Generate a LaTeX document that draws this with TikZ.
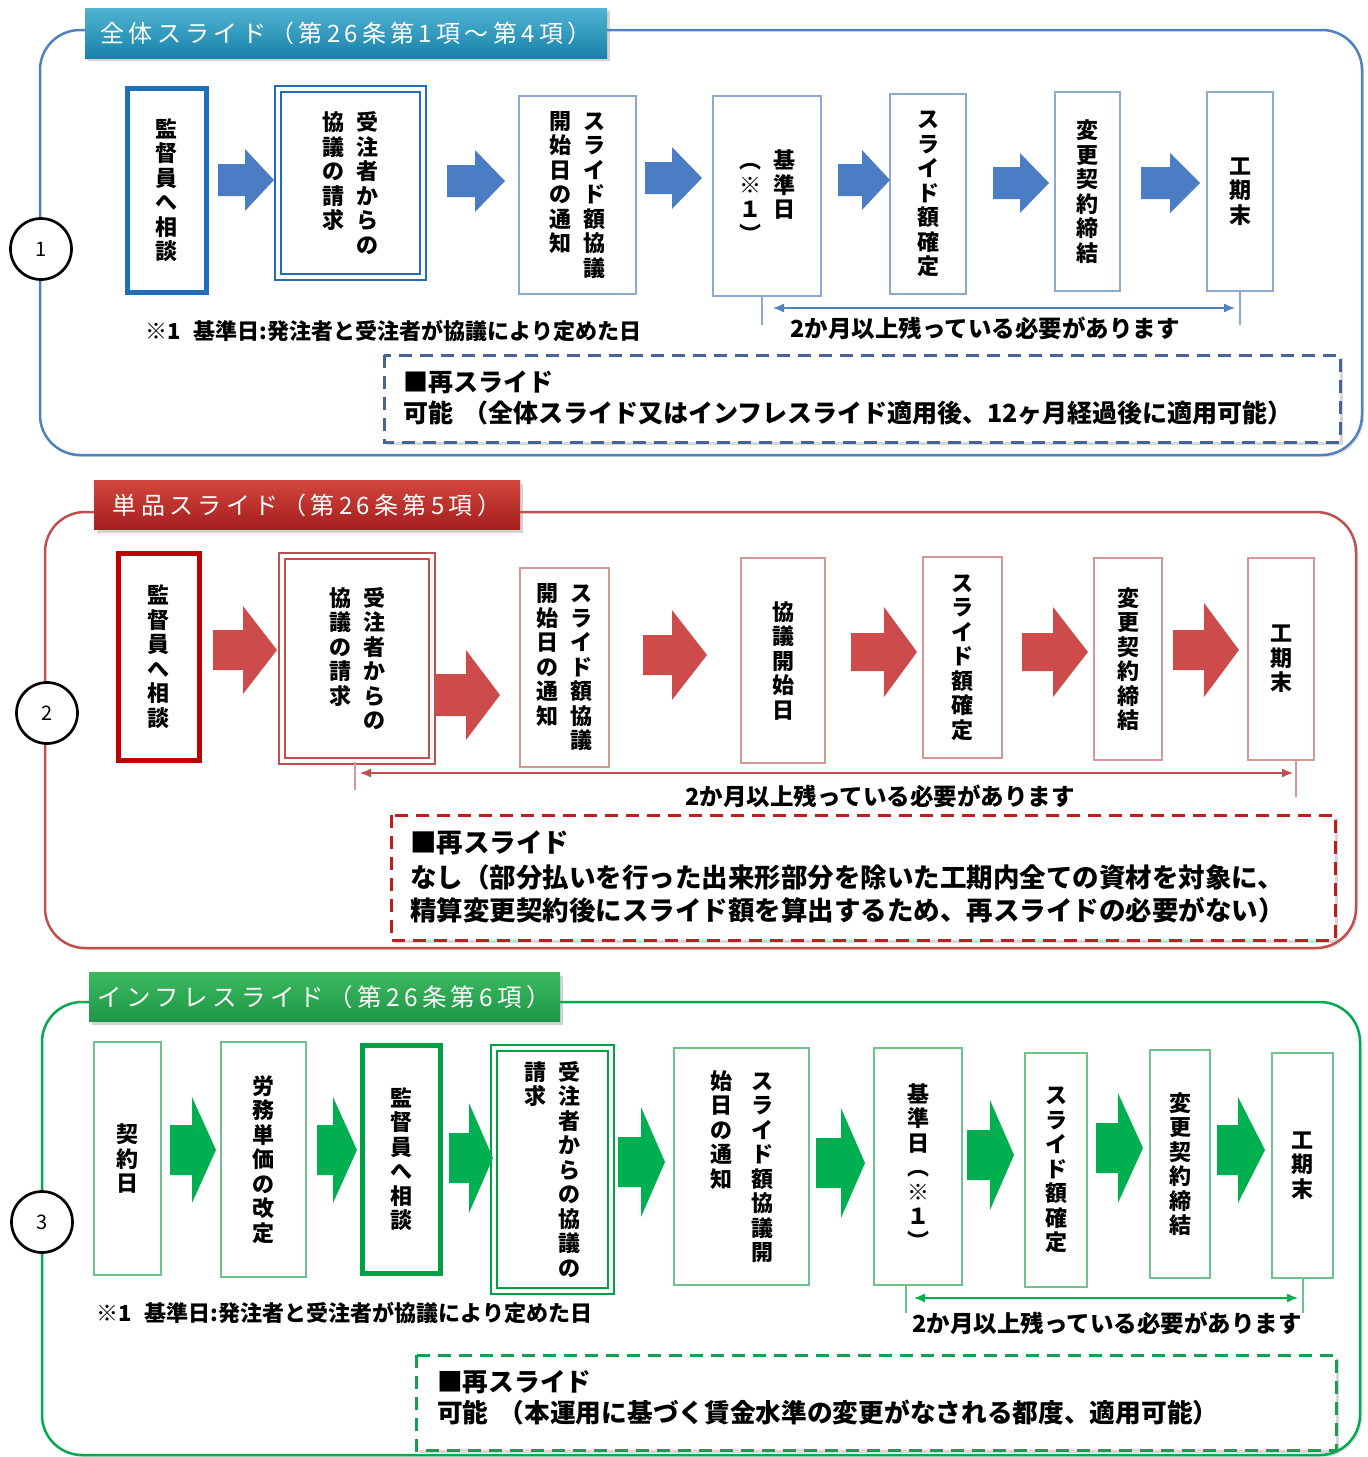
\documentclass[tikz,border=0pt]{standalone}
\usepackage{fontspec}
\setmainfont{Noto Sans CJK JP}
\newfontfamily\ttlfont{Noto Sans CJK JP}[LetterSpace=18]
\usetikzlibrary{arrows.meta,shadows}

\makeatletter
\newlength\vpitch \setlength\vpitch{24.5pt}
\newlength\vcharw \setlength\vcharw{24pt}
\newcommand\vcol[1]{\vtop{\baselineskip=\vpitch\lineskip=0pt\lineskiplimit=-100pt\@tfor\vc@c:=#1\do{\hbox to\vcharw{\hss\vc@c\hss}}}}
\makeatother
\newcommand\twocol[3][10pt]{\vcol{#2}\hspace{#1}\vcol{#3}}

% box: style, name, x0, y0, x1, y1, content
\newcommand\bx[7]{\node[#1, minimum width={(#5-#3)*1pt}, minimum height={(#6-#4)*1pt}] (#2) at ({(#3+#5)/2},{(#4+#6)/2}) {#7};}
% block arrow: x0, xb, x1, cy, shaft half, head half, colour
\newcommand\barrow[7]{\fill[#7] (#1,#4-#5) -- (#2,#4-#5) -- (#2,#4-#6) -- (#3,#4) -- (#2,#4+#6) -- (#2,#4+#5) -- (#1,#4+#5) -- cycle;}

\definecolor{bl}{RGB}{79,129,189}
\definecolor{blA}{RGB}{74,125,195}
\definecolor{blT}{RGB}{30,110,185}
\definecolor{blL}{RGB}{140,170,205}
\definecolor{blD}{RGB}{70,100,150}
\definecolor{blBt}{RGB}{80,180,210}
\definecolor{blBb}{RGB}{25,130,170}
\definecolor{rd}{RGB}{192,80,77}
\definecolor{rdA}{RGB}{205,75,75}
\definecolor{rdT}{RGB}{192,0,0}
\definecolor{rdL}{RGB}{215,150,150}
\definecolor{rdD}{RGB}{192,30,30}
\definecolor{rdBt}{RGB}{210,70,60}
\definecolor{rdBb}{RGB}{165,30,30}
\definecolor{gr}{RGB}{0,170,80}
\definecolor{grA}{RGB}{0,176,80}
\definecolor{grT}{RGB}{0,160,70}
\definecolor{grL}{RGB}{110,195,140}
\definecolor{grD}{RGB}{20,160,80}
\definecolor{grBt}{RGB}{60,185,95}
\definecolor{grBb}{RGB}{30,150,70}

\begin{document}
\begin{tikzpicture}[x=1pt,y=-1pt,
  panel/.style={draw=#1, line width=2.5pt, rounded corners=40pt, fill=white,
    drop shadow={shadow xshift=2pt, shadow yshift=-2pt, opacity=0.25}},
  banner/.style={inner sep=0pt, text=white,
    drop shadow={shadow xshift=3pt, shadow yshift=-3pt, opacity=0.35}},
  vbox/.style={draw=#1, line width=1.4pt, fill=white, inner sep=0pt,
    font=\bfseries\fontsize{22}{24}\selectfont},
  thickbox/.style={draw=#1, line width=5pt, fill=white, inner sep=0pt,
    font=\bfseries\fontsize{22}{24}\selectfont},
  dblbox/.style={draw=#1, line width=2.4pt, double=white, double distance=4pt, fill=white, inner sep=0pt,
    font=\bfseries\fontsize{22}{24}\selectfont},
  num/.style={circle, draw=black, line width=2.7pt, fill=white, minimum size=61pt, inner sep=0pt,
    font=\fontsize{20}{22}\selectfont},
  note/.style={anchor=west, inner sep=0pt, font=\bfseries\fontsize{22}{24}\selectfont},
  dimlbl/.style={inner sep=0pt, font=\bfseries\fontsize{23.5}{25}\selectfont},
  dimline/.style={draw=#1, line width=1.3pt},
  dimarrow/.style={draw=#1, line width=1.3pt, {Latex[length=11pt,width=9pt]}-{Latex[length=11pt,width=9pt]}},
  dashbox/.style={draw=#1, line width=3pt, dash pattern=on 13pt off 8pt, fill=white,
    drop shadow={shadow xshift=3pt, shadow yshift=-3pt, opacity=0.3}},
  dtext/.style={anchor=west, inner sep=0pt, font=\bfseries\fontsize{#1}{26}\selectfont},
  dtext/.default=25
]
\useasboundingbox (0,0) rectangle (1368,1457);

%%%%%%%%%%%%%%%% Panel 1
\draw[panel=bl] (40,30) rectangle (1362,455);
\node[banner, font=\ttlfont\fontsize{24}{26}\selectfont, top color=blBt, bottom color=blBb, minimum width=522pt, minimum height=50pt] (t1) at (346,33) {全体スライド（第26条第1項～第4項）};
\node[num] (c1) at (41,249) {1};

\bx{thickbox=blT}{p1b1}{127}{88}{206}{292}{\vcol{監督員へ相談}}
\bx{dblbox=blT}{p1b2}{278}{89}{423}{277}{\twocol{協議の請求}{受注者からの}}
\bx{vbox=blL}{p1b3}{519}{96}{636}{294}{\twocol{開始日の通知}{スライド額協議}}
\bx{vbox=blL}{p1b4}{713}{96}{821}{296}{\twocol{︵※１︶}{基準日}}
\bx{vbox=blL}{p1b5}{890}{94}{966}{294}{\vcol{スライド額確定}}
\bx{vbox=blL}{p1b6}{1055}{92}{1120}{291}{\vcol{変更契約締結}}
\bx{vbox=blL}{p1b7}{1207}{92}{1273}{291}{\vcol{工期末}}

\barrow{218}{245}{274}{180}{16}{31}{blA}
\barrow{447}{475}{505}{181}{16}{31}{blA}
\barrow{645}{672}{702}{178}{16}{31}{blA}
\barrow{838}{862}{890}{180}{16}{30}{blA}
\barrow{993}{1020}{1049}{183}{16}{30}{blA}
\barrow{1141}{1170}{1200}{183}{16}{30}{blA}

\node[note] (n1) at (145,331) {※1\hspace{0.6em}基準日:発注者と受注者が協議により定めた日};
\coordinate (p1ta) at (762,296); \coordinate (p1tb) at (762,325);
\coordinate (p1tc) at (1240,291); \coordinate (p1td) at (1240,325);
\draw[dimline=blL] (p1ta) -- (p1tb);
\draw[dimline=blL] (p1tc) -- (p1td);
\coordinate (p1aa) at (773,308); \coordinate (p1ab) at (1235,308);
\draw[dimarrow=bl] (p1aa) -- (p1ab);
\node[dimlbl] (d1) at (985,328) {2か月以上残っている必要があります};

\draw[dashbox=blD] (384,355) rectangle (1340,442);
\node[dtext=25] (r1a) at (403,382) {■再スライド};
\node[dtext=25] (r1b) at (403,413) {可能\hspace{0.4em}（全体スライド又はインフレスライド適用後、12ヶ月経過後に適用可能）};

%%%%%%%%%%%%%%%% Panel 2
\draw[panel=rd] (45,512) rectangle (1356,948);
\node[banner, font=\ttlfont\fontsize{24}{26}\selectfont, top color=rdBt, bottom color=rdBb, minimum width=426pt, minimum height=49pt] (t2) at (307,505) {単品スライド（第26条第5項）};
\node[num] (c2) at (47,713) {2};

\bx{thickbox=rdT}{p2b1}{118}{553}{199}{760}{\vcol{監督員へ相談}}
\bx{dblbox=rd}{p2b2}{282}{556}{432}{761}{\twocol{協議の請求}{受注者からの}}
\bx{vbox=rdL}{p2b3}{520}{568}{609}{767}{\twocol{開始日の通知}{スライド額協議}}
\bx{vbox=rdL}{p2b4}{741}{558}{825}{763}{\vcol{協議開始日}}
\bx{vbox=rdL}{p2b5}{923}{557}{1002}{758}{\vcol{スライド額確定}}
\bx{vbox=rdL}{p2b6}{1094}{558}{1162}{760}{\vcol{変更契約締結}}
\bx{vbox=rdL}{p2b7}{1248}{558}{1314}{760}{\vcol{工期末}}

\barrow{213}{243}{277}{650}{20}{44}{rdA}
\barrow{435}{466}{500}{695}{21}{45}{rdA}
\barrow{643}{672}{707}{655}{20}{45}{rdA}
\barrow{851}{884}{917}{652}{19}{45}{rdA}
\barrow{1022}{1053}{1088}{652}{19}{45}{rdA}
\barrow{1173}{1204}{1239}{650}{20}{47}{rdA}

\coordinate (p2ta) at (355,762); \coordinate (p2tb) at (355,790);
\coordinate (p2tc) at (1296,760); \coordinate (p2td) at (1296,797);
\draw[dimline=rdL] (p2ta) -- (p2tb);
\draw[dimline=rdL] (p2tc) -- (p2td);
\coordinate (p2aa) at (360,773); \coordinate (p2ab) at (1293,773);
\draw[dimarrow=rd] (p2aa) -- (p2ab);
\node[dimlbl] (d2) at (880,796) {2か月以上残っている必要があります};

\draw[dashbox=rdD] (391,815) rectangle (1335,940);
\node[dtext=26.5] (r2a) at (410,843) {■再スライド};
\node[dtext=26.5] (r2b) at (410,877) {なし（部分払いを行った出来形部分を除いた工期内全ての資材を対象に、};
\node[dtext=26.5] (r2c) at (410,910) {精算変更契約後にスライド額を算出するため、再スライドの必要がない）};

%%%%%%%%%%%%%%%% Panel 3
\draw[panel=gr] (42,1002) rectangle (1360,1455);
\node[banner, font=\ttlfont\fontsize{24.5}{26}\selectfont, top color=grBt, bottom color=grBb, minimum width=471pt, minimum height=49pt] (t3) at (324.5,997) {インフレスライド（第26条第6項）};
\node[num] (c3) at (42,1222) {3};

\bx{vbox=grL}{p3b1}{94}{1042}{161}{1275}{\vcol{契約日}}
\bx{vbox=grL}{p3b2}{221}{1042}{306}{1277}{\vcol{労務単価の改定}}
\bx{thickbox=grT}{p3b3}{362}{1045}{440}{1273}{\vcol{監督員へ相談}}
\bx{dblbox=grT}{p3b4}{494}{1048}{611}{1291}{\twocol{請求}{受注者からの協議の}}
\bx{vbox=grL}{p3b5}{674}{1048}{809}{1285}{\twocol[17pt]{始日の通知}{スライド額協議開}}
\bx{vbox=grL}{p3b6}{874}{1048}{962}{1285}{\vcol{基準日︵※１︶}}
\bx{vbox=grL}{p3b7}{1025}{1053}{1087}{1287}{\vcol{スライド額確定}}
\bx{vbox=grL}{p3b8}{1150}{1050}{1210}{1278}{\vcol{変更契約締結}}
\bx{vbox=grL}{p3b9}{1272}{1053}{1333}{1278}{\vcol{工期末}}

\barrow{170}{192}{216}{1150}{25}{53}{grA}
\barrow{317}{333}{357}{1150}{25}{53}{grA}
\barrow{449}{469}{493}{1158}{25}{55}{grA}
\barrow{618}{641}{665}{1162}{25}{55}{grA}
\barrow{816}{841}{865}{1163}{25}{55}{grA}
\barrow{967}{990}{1014}{1155}{25}{55}{grA}
\barrow{1096}{1118}{1143}{1148}{25}{55}{grA}
\barrow{1217}{1238}{1265}{1150}{25}{53}{grA}

\node[note] (n3) at (96,1313) {※1\hspace{0.6em}基準日:発注者と受注者が協議により定めた日};
\coordinate (p3ta) at (906,1285); \coordinate (p3tb) at (906,1313);
\coordinate (p3tc) at (1303,1278); \coordinate (p3td) at (1303,1313);
\draw[dimline=grL] (p3ta) -- (p3tb);
\draw[dimline=grL] (p3tc) -- (p3td);
\coordinate (p3aa) at (914,1298); \coordinate (p3ab) at (1298,1298);
\draw[dimarrow=grA] (p3aa) -- (p3ab);
\node[dimlbl] (d3) at (1107,1323) {2か月以上残っている必要があります};

\draw[dashbox=grD] (416,1355) rectangle (1336,1450);
\node[dtext=25.7] (r3a) at (437,1382) {■再スライド};
\node[dtext=25.7] (r3b) at (437,1413) {可能\hspace{0.4em}（本運用に基づく賃金水準の変更がなされる都度、適用可能）};
\end{tikzpicture}
\end{document}
